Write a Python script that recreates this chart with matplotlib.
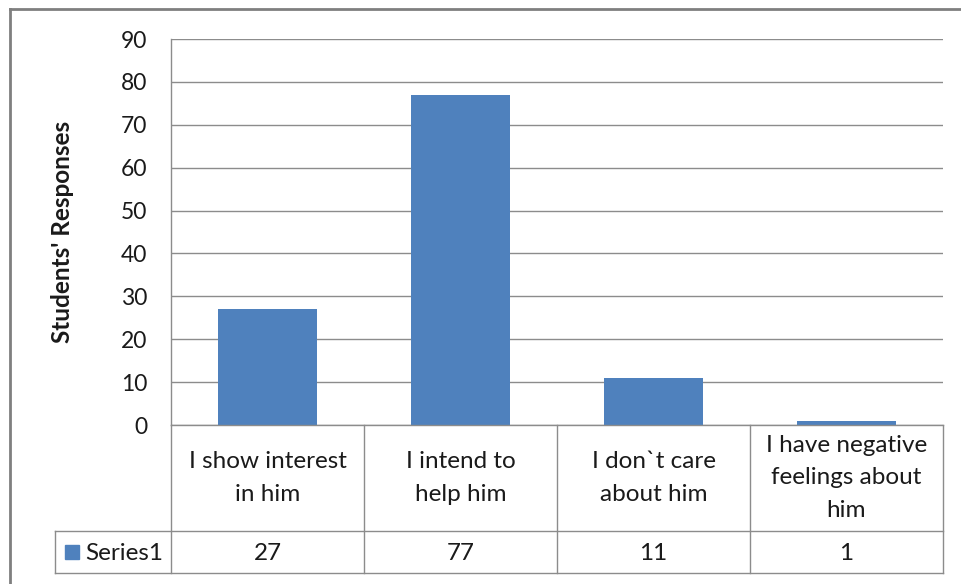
import matplotlib
matplotlib.use("Agg")
import matplotlib.pyplot as plt
from matplotlib.patches import Rectangle
from matplotlib.lines import Line2D

categories = ["I show interest\nin him", "I intend to\nhelp him", "I don`t care\nabout him",
              "I have negative\nfeelings about\nhim"]
series_name = "Series1"
values = [27, 77, 11, 1]
yticks = [0, 10, 20, 30, 40, 50, 60, 70, 80, 90]
ylabel = "Students' Responses"

plt.rcParams['font.family'] = ['Lato', 'DejaVu Sans']

W, H = 961, 584
fig = plt.figure(figsize=(W / 100, H / 100), dpi=100)
fig.patch.set_facecolor("white")

def fx(px):
    return px / W

def fy(py):
    return 1 - py / H

fs = 16.5
fsc = 17.5
left, right, top, bottom = 171, 943, 39, 425
ax = fig.add_axes([fx(left), fy(bottom), fx(right - left), (bottom - top) / H])
blue = "#4F81BD"
grid = "#8C8C8C"
x = list(range(len(values)))
ax.bar(x, values, width=0.51, color=blue, zorder=3)
ax.set_xlim(-0.5, len(values) - 0.5)
ax.set_ylim(0, 90)
ax.set_yticks(yticks)
ax.set_yticklabels([str(t) for t in yticks], fontsize=fs, color="#1a1a1a")
ax.tick_params(axis='y', length=0, pad=17)
ax.set_xticks([])
for s in ["top", "right", "bottom"]:
    ax.spines[s].set_visible(False)
ax.spines["left"].set_color(grid)
ax.spines["left"].set_linewidth(1.0)
ax.yaxis.grid(True, color=grid, linewidth=1.0, zorder=0)
ax.set_axisbelow(True)

# y label
fig.text(fx(62), fy(232), ylabel, rotation=90, fontsize=17.5, fontweight="bold",
         ha="center", va="center", color="#1a1a1a")

# data table drawn in figure coordinates
lw = 1.0
def hline(y, x0, x1):
    fig.add_artist(Line2D([fx(x0), fx(x1)], [fy(y), fy(y)], color=grid, lw=lw))

def vline(xp, y0, y1):
    fig.add_artist(Line2D([fx(xp), fx(xp)], [fy(y0), fy(y1)], color=grid, lw=lw))

row1, row2 = 531, 573
label_left = 55
hline(bottom, left, right)
hline(row1, label_left, right)
hline(row2, label_left, right)
vline(label_left, row1, row2)
ncat = len(categories)
colw = (right - left) / ncat
for i in range(ncat + 1):
    vline(left + i * colw, bottom, row2)

for i, (c, v) in enumerate(zip(categories, values)):
    cx = left + (i + 0.5) * colw
    fig.text(fx(cx), fy((bottom + row1) / 2), c, ha="center", va="center",
             fontsize=fsc, color="#1a1a1a", linespacing=1.65)
    fig.text(fx(cx), fy((row1 + row2) / 2 + 1), str(v), ha="center", va="center",
             fontsize=fsc, color="#1a1a1a")

# legend key in table
fig.add_artist(Rectangle((fx(65), fy(559)), fx(14), 14 / H, color=blue))
fig.text(fx(85), fy((row1 + row2) / 2 + 1), series_name, ha="left", va="center",
         fontsize=fsc, color="#1a1a1a")

# outer chart border (cropped at right and bottom)
border = "#7F7F7F"
fig.add_artist(Line2D([fx(10), fx(W)], [fy(9), fy(9)], color=border, lw=2))
fig.add_artist(Line2D([fx(10), fx(10)], [fy(9), fy(H)], color=border, lw=2))

fig.savefig("out.png", dpi=100, facecolor="white")
